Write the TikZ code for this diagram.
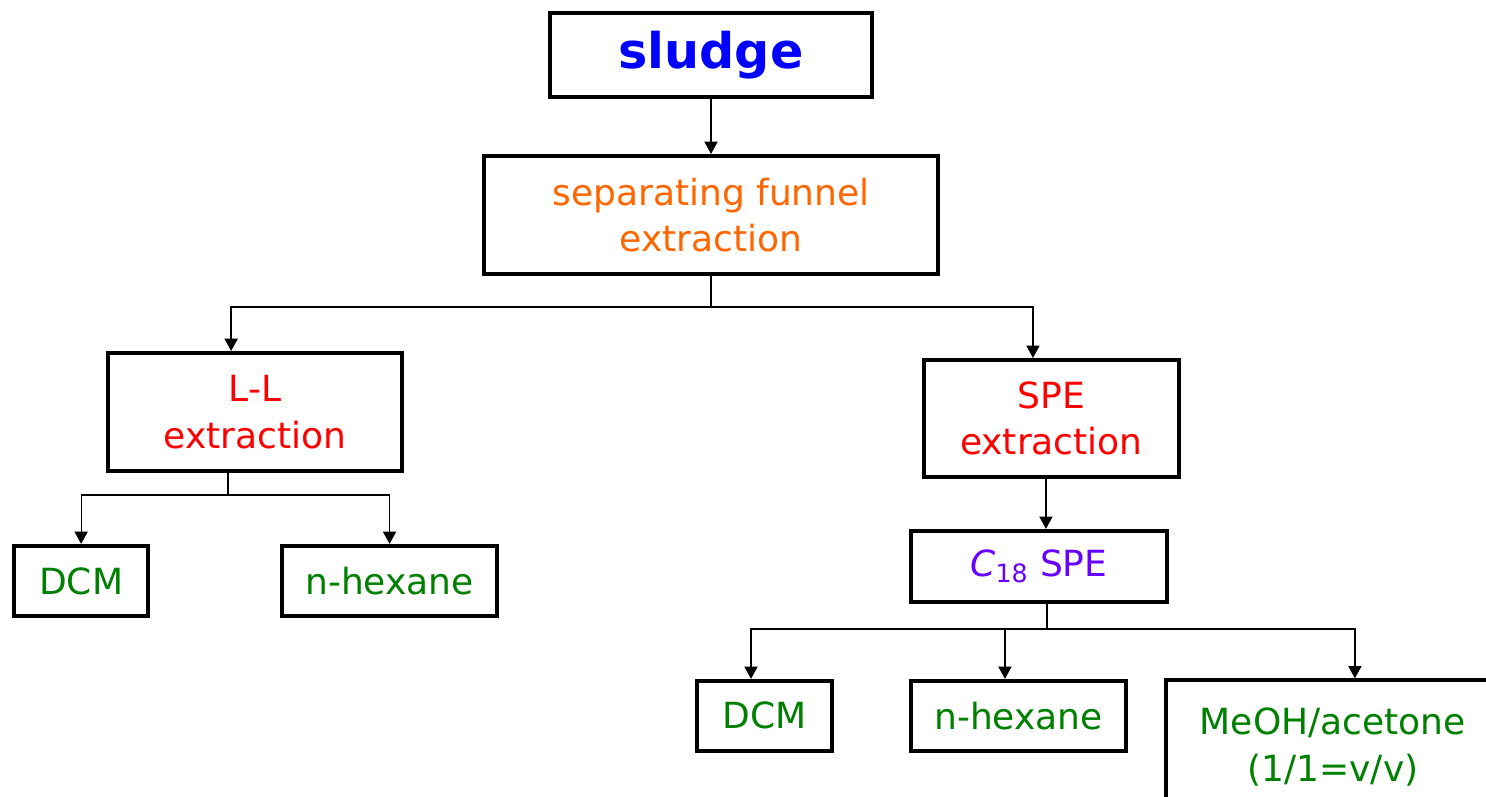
\documentclass[tikz,border=0pt]{standalone}
\usepackage{fontspec}
\setmainfont{DejaVu Sans}
\usetikzlibrary{arrows.meta}

\definecolor{sludgeblue}{RGB}{0,0,255}
\definecolor{funnelorange}{RGB}{255,102,0}
\definecolor{stepred}{RGB}{255,0,0}
\definecolor{sorbentviolet}{RGB}{102,0,255}
\definecolor{solventgreen}{RGB}{0,128,0}

\begin{document}
\begin{tikzpicture}[
    x=0.02cm, y=-0.02cm,
    node distance=3.2cm,
    box/.style={rectangle, draw, line width=2.3pt, fill=white, inner sep=0pt, text centered, align=center, font=\fontsize{20.5}{26.5}\selectfont},
    arrow/.style={-{Triangle[length=7pt,width=7.5pt]}, line width=0.7pt},
    link/.style={line width=0.7pt}
]
\useasboundingbox (0,0) rectangle (1486,797);
\clip (0,0) rectangle (1486,797);

\node[box, minimum width=6.45cm, minimum height=1.68cm, font=\fontsize{28}{32}\selectfont\bfseries, text=sludgeblue] (sludge) at (711,55) {sludge};
\node[box, below of=sludge, minimum width=9.1cm, minimum height=2.36cm, text=funnelorange] (funnel) {separating funnel\\extraction};
\node[box, below of=funnel, xshift=-9.12cm, yshift=-0.74cm, minimum width=5.88cm, minimum height=2.36cm, text=stepred] (ll) {L-L\\extraction};
\node[box, right of=ll, xshift=12.73cm, yshift=-0.13cm, minimum width=5.1cm, minimum height=2.34cm, text=stepred] (spe) {SPE\\extraction};
\node[box, below of=spe, xshift=-0.25cm, yshift=0.24cm, minimum width=5.12cm, minimum height=1.42cm, text=sorbentviolet] (c18) {{\itshape C}\textsubscript{18} SPE};
\node[box, below of=ll, xshift=-3.48cm, yshift=-0.18cm, minimum width=2.68cm, minimum height=1.4cm, text=solventgreen] (dcmA) {DCM};
\node[box, right of=dcmA, xshift=2.97cm, minimum width=4.3cm, minimum height=1.4cm, text=solventgreen] (hexA) {n-hexane};
\node[box, below of=c18, xshift=-5.49cm, yshift=0.21cm, minimum width=2.7cm, minimum height=1.4cm, text=solventgreen] (dcmB) {DCM};
\node[box, right of=dcmB, xshift=1.88cm, minimum width=4.3cm, minimum height=1.4cm, text=solventgreen] (hexB) {n-hexane};
\node[box, right of=hexB, xshift=3.09cm, yshift=-0.62cm, minimum width=6.66cm, minimum height=2.66cm, text=solventgreen] (meoh) {MeOH/acetone\\(1/1=v/v)};

\draw[arrow] (sludge) -- (funnel);
\draw[link] (funnel.south) -- ++(0,31) coordinate (split1);
\draw[arrow] (split1) -| ([xshift=-0.48cm]ll.north);
\draw[arrow] (split1) -| ([xshift=-0.37cm]spe.north);
\draw[link] ([xshift=-0.54cm]ll.south) -- ++(0,22) coordinate (split2);
\draw[arrow] (split2) -| (dcmA.north);
\draw[arrow] (split2) -| (hexA.north);
\draw[arrow] ([xshift=-0.11cm]spe.south) -- ([xshift=-0.11cm]spe.south |- c18.north);
\draw[link] ([xshift=0.16cm]c18.south) -- ++(0,25) coordinate (split3);
\draw[arrow] (split3) -| ([xshift=-0.27cm]dcmB.north);
\draw[arrow] (split3) -| ([xshift=-0.27cm]hexB.north);
\draw[arrow] (split3) -| ([xshift=0.44cm]meoh.north);
\end{tikzpicture}
\end{document}
